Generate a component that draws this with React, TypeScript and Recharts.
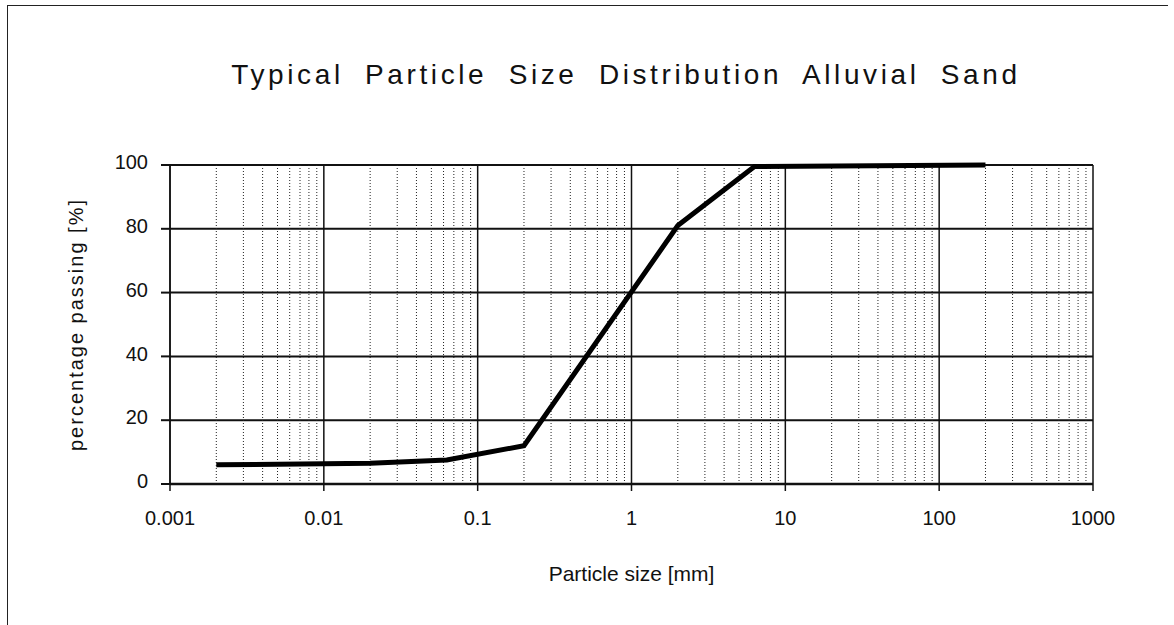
import React from "react";
import {
	CartesianGrid,
	Line,
	LineChart,
	ReferenceLine,
	XAxis,
	YAxis,
} from "recharts";

// particle size [mm] vs percentage passing [%]
const sizes = [0.002, 0.02, 0.063, 0.2, 2, 6.3, 200];
const passing = [6, 6.5, 7.5, 12, 81, 99.5, 100];

const xTicks = [0.001, 0.01, 0.1, 1, 10, 100, 1000];
const yTicks = [0, 20, 40, 60, 80, 100];
// minor log grid: 2..9 within each decade
const minorTicks = xTicks.slice(0, -1).flatMap((d) =>
	[2, 3, 4, 5, 6, 7, 8, 9].map((m) => +(d * m).toPrecision(3)),
);

const data = sizes.map((s, i) => ({ size: s, pass: passing[i] }));

const font = "'Liberation Sans', Arial, sans-serif";

export default function App() {
	return (
		<div
			style={{
				position: "absolute",
				left: 0,
				top: 0,
				width: 1174,
				height: 625,
				background: "#fff",
				fontFamily: font,
			}}
		>
			{/* scanned page frame */}
			<div
				style={{
					position: "absolute",
					left: 7,
					top: 5,
					width: 1160,
					height: 630,
					borderLeft: "1px solid #222",
					borderTop: "1px solid #222",
				}}
			/>
			<div
				style={{
					position: "absolute",
					left: 0,
					top: 59,
					width: 1174,
					paddingLeft: 78,
					boxSizing: "border-box",
					textAlign: "center",
					fontSize: 28,
					letterSpacing: 3.6,
					wordSpacing: 10,
					color: "#111",
					whiteSpace: "nowrap",
				}}
			>
				Typical Particle Size Distribution Alluvial Sand
			</div>
			<div style={{ position: "absolute", left: 0, top: 0 }}>
				<LineChart
					width={1174}
					height={625}
					data={data}
					margin={{ top: 165, right: 81, bottom: 111, left: 108 }}
				>
					<CartesianGrid vertical={false} stroke="#111" strokeWidth={2} />
					{minorTicks.map((t) => (
						<ReferenceLine
							key={t}
							x={t}
							stroke="#222"
							strokeWidth={1}
							strokeDasharray="1 2"
						/>
					))}
					{xTicks.map((t) => (
						<ReferenceLine key={`M${t}`} x={t} stroke="#111" strokeWidth={1.5} />
					))}
					<XAxis
						dataKey="size"
						type="number"
						scale="log"
						domain={[0.001, 1000]}
						ticks={xTicks}
						allowDataOverflow
						axisLine={{ stroke: "#111", strokeWidth: 2.5 }}
						tickLine={{ stroke: "#111", strokeWidth: 1.5 }}
						tickSize={7}
						tickMargin={20}
						height={30}
						tick={{ fill: "#111", fontSize: 20, fontFamily: font }}
						tickFormatter={(v) => String(v)}
						label={({ viewBox }: any) => (
							<text
								x={viewBox.x + viewBox.width / 2}
								y={581}
								textAnchor="middle"
								fill="#111"
								fontSize={21}
								fontFamily={font}
							>
								Particle size [mm]
							</text>
						)}
					/>
					<YAxis
						type="number"
						domain={[0, 100]}
						ticks={yTicks}
						width={62}
						axisLine={{ stroke: "#111", strokeWidth: 1.5 }}
						tickLine={{ stroke: "#111", strokeWidth: 2 }}
						tickSize={9}
						tickMargin={13}
						tick={{ fill: "#111", fontSize: 20, fontFamily: font, dy: -3 }}
						label={({ viewBox }: any) => {
							const cx = 76;
							const cy = viewBox.y + viewBox.height / 2;
							return (
								<text
									x={cx}
									y={cy}
									transform={`rotate(-90 ${cx} ${cy})`}
									textAnchor="middle"
									dominantBaseline="central"
									fill="#111"
									fontSize={20}
									letterSpacing={2}
									fontFamily={font}
								>
									percentage passing [%]
								</text>
							);
						}}
					/>
					<Line
						type="linear"
						dataKey="pass"
						stroke="#000"
						strokeWidth={5}
						dot={false}
						isAnimationActive={false}
					/>
				</LineChart>
			</div>
		</div>
	);
}
